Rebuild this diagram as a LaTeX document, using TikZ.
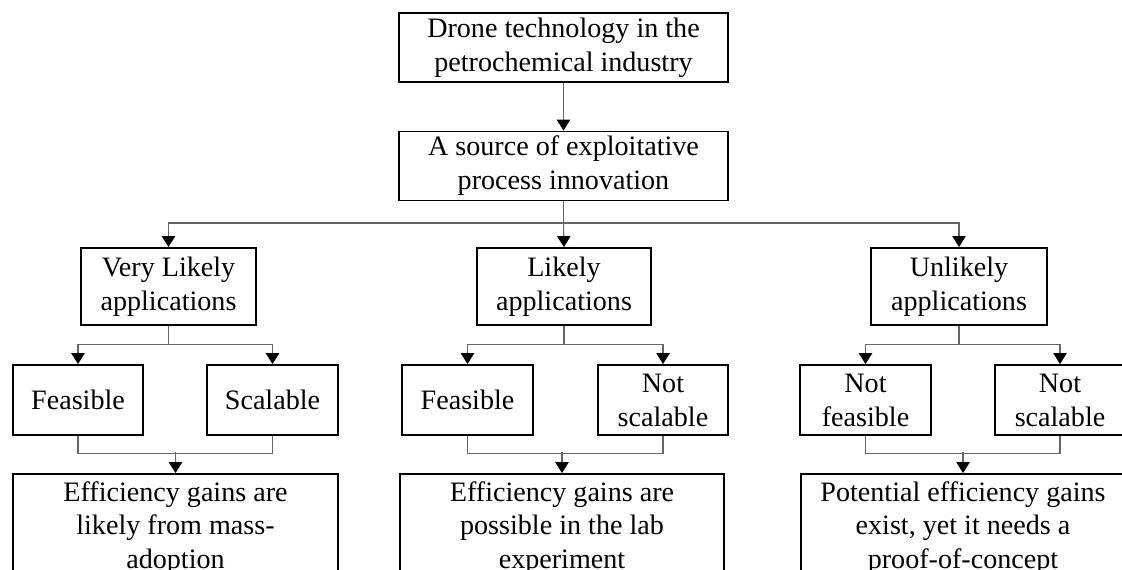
\documentclass[tikz,border=0pt]{standalone}
\usepackage{fontspec}
\setmainfont{Liberation Serif}
\usetikzlibrary{arrows.meta}

\begin{document}
\begin{tikzpicture}[x=0.02cm,y=-0.02cm,
    box/.style={draw,line width=1.1pt,align=center,inner sep=1pt,
      font=\fontsize{16}{19.3}\selectfont},
    line/.style={draw=black!60,line width=0.6pt},
    arr/.style={line,-{Triangle[width=0.27cm,length=0.22cm,fill=black,color=black]}}]
  \useasboundingbox (0,0) rectangle (1122,569);
  % top of the tree
  \node[box,minimum width=6.58cm,minimum height=1.38cm] (drone) at (563.5,47.5)
    {Drone technology in the\\petrochemical industry};
  \node[box,minimum width=6.58cm,minimum height=1.38cm] (source) at (563.5,166)
    {A source of exploitative\\process innovation};
  \draw[arr] (drone) -- (source);
  % three kinds of applications
  \node[box,minimum width=3.5cm,minimum height=1.54cm] (vlikely) at (168.5,286.5)
    {Very Likely\\applications};
  \node[box,minimum width=3.48cm,minimum height=1.54cm] (likely) at (564,286.5)
    {Likely\\applications};
  \node[box,minimum width=3.52cm,minimum height=1.54cm] (unlikely) at (959,286.5)
    {Unlikely\\applications};
  \coordinate (bus) at (563.5,223);
  \draw[line] (source.south) -- (bus);
  \draw[arr] (bus) -- (likely.north);
  \draw[arr] (bus) -| (vlikely.north);
  \draw[arr] (bus) -| (unlikely.north);
  % feasible / scalable
  \node[box,minimum width=2.6cm,minimum height=1.4cm] (feas1) at (78,400) {Feasible};
  \node[box,minimum width=2.62cm,minimum height=1.4cm] (scal1) at (272.5,400) {Scalable};
  \node[box,minimum width=2.62cm,minimum height=1.4cm] (feas2) at (467.5,400) {Feasible};
  \node[box,minimum width=2.6cm,minimum height=1.4cm] (scal2) at (663,400) {Not\\scalable};
  \node[box,minimum width=2.62cm,minimum height=1.4cm] (feas3) at (865.5,400) {Not\\feasible};
  \node[box,minimum width=2.6cm,minimum height=1.4cm] (scal3) at (1060,400) {Not\\scalable};
  \draw[arr] (vlikely.south) -- ++(0,19) -| (feas1.north);
  \draw[arr] (vlikely.south) -- ++(0,19) -| (scal1.north);
  \draw[arr] (likely.south) -- ++(0,19) -| (feas2.north);
  \draw[arr] (likely.south) -- ++(0,19) -| (scal2.north);
  \draw[arr] (unlikely.south) -- ++(0,19) -| (feas3.north);
  \draw[arr] (unlikely.south) -- ++(0,19) -| (scal3.north);
  % outcomes (cut off at the bottom)
  \node[box,minimum width=6.5cm,minimum height=2.16cm] (gain1) at (175.5,528)
    {Efficiency gains are\\likely from mass-\\adoption};
  \node[box,minimum width=6.48cm,minimum height=2.16cm] (gain2) at (562,528)
    {Efficiency gains are\\possible in the lab\\experiment};
  \node[box,minimum width=6.48cm,minimum height=2.16cm] (gain3) at (963,528)
    {Potential efficiency gains\\exist, yet it needs a\\proof-of-concept};
  \draw[line] (feas1.south) -- ++(0,18) -| (scal1.south);
  \draw[line] (feas2.south) -- ++(0,18) -| (scal2.south);
  \draw[line] (feas3.south) -- ++(0,18) -| (scal3.south);
  \draw[arr] (gain1.north) ++(0,-21) -- (gain1.north);
  \draw[arr] (gain2.north) ++(0,-21) -- (gain2.north);
  \draw[arr] (gain3.north) ++(0,-21) -- (gain3.north);
\end{tikzpicture}
\end{document}
